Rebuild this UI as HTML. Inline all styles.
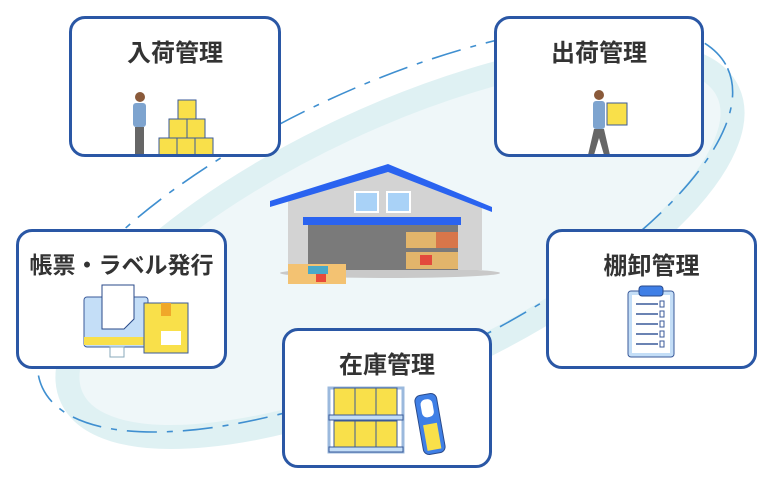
<!DOCTYPE html>
<html><head><meta charset="utf-8"><style>
body{margin:0;width:770px;height:485px;background:#fff;overflow:hidden;position:relative;font-family:"Liberation Sans","Noto Sans CJK JP",sans-serif}
.b{position:absolute;border:3px solid #2a57a5;border-radius:16px;background:#fff;box-sizing:border-box;overflow:hidden}
.t{position:absolute;left:0;right:0;text-align:center;font-weight:bold;font-size:24px;color:#333;top:14px}
svg{position:absolute;left:0;top:0}
</style></head><body>
<svg width="770" height="485">
<g transform="rotate(-25 400 245)">
<ellipse cx="400" cy="245" rx="362" ry="128" fill="#eff7f9" stroke="#dff1f3" stroke-width="24"/>
</g>
<g transform="rotate(-25 385 228)">
<ellipse cx="385" cy="228" rx="378" ry="140" fill="none" stroke="#3f8fd0" stroke-width="1.6" stroke-dasharray="30 10 6 10"/>
</g>
<!-- warehouse -->
<ellipse cx="390" cy="273" rx="110" ry="5" fill="#c9c9c9"/>
<polygon points="288,200 388,172 482,205 482,270 288,270" fill="#d3d3d3"/>
<polygon points="270,201 388,164 492,207 492,212 388,172 270,207" fill="#2a63f0"/>
<rect x="354" y="191" width="25" height="22" fill="#fff"/><rect x="356" y="193" width="21" height="18" fill="#a9d2f7"/>
<rect x="386" y="191" width="25" height="22" fill="#fff"/><rect x="388" y="193" width="21" height="18" fill="#a9d2f7"/>
<rect x="303" y="217" width="158" height="8" fill="#2a63f0"/>
<rect x="308" y="225" width="150" height="45" fill="#7a7a7a"/>
<rect x="406" y="232" width="52" height="16" fill="#e2b56b"/><rect x="436" y="232" width="22" height="16" fill="#d8764a"/>
<rect x="406" y="252" width="52" height="17" fill="#e2b56b"/><rect x="420" y="255" width="12" height="10" fill="#e34a3c"/>
<rect x="288" y="264" width="58" height="20" fill="#f3c272"/><rect x="308" y="266" width="20" height="8" fill="#4aa9c8"/><rect x="316" y="274" width="10" height="8" fill="#e84a3a"/>
</svg>

<div class="b" style="left:69px;top:16px;width:212px;height:141px"><div class="t">入荷管理</div>
<svg width="212" height="141" style="left:-3px;top:-3px">
<circle cx="71" cy="81" r="5" fill="#8a5a3a"/><rect x="64" y="87" width="13" height="24" rx="3" fill="#7ea4cf"/><rect x="66" y="111" width="9" height="27" fill="#666"/>
<rect x="64" y="138" width="13" height="3" fill="#333"/>
<g fill="#f9e04a" stroke="#3a5a9a" stroke-width="1"><rect x="109" y="84" width="18" height="19"/><rect x="100" y="103" width="18" height="19"/><rect x="118" y="103" width="18" height="19"/><rect x="90" y="122" width="18" height="19"/><rect x="108" y="122" width="18" height="19"/><rect x="126" y="122" width="18" height="19"/></g>
</svg></div>

<div class="b" style="left:494px;top:16px;width:210px;height:141px"><div class="t">出荷管理</div>
<svg width="210" height="141" style="left:-3px;top:-3px">
<circle cx="105" cy="79" r="5" fill="#8a5a3a"/><rect x="99" y="85" width="12" height="28" rx="3" fill="#7ea4cf"/><polygon points="100,113 110,113 116,139 110,139 105,122 100,139 94,139" fill="#666"/>
<rect x="113" y="87" width="20" height="22" fill="#f9e04a" stroke="#3a5a9a"/>
</svg></div>

<div class="b" style="left:16px;top:229px;width:211px;height:140px"><div class="t" style="font-size:23px">帳票・ラベル発行</div>
<svg width="211" height="140" style="left:-3px;top:-3px">
<rect x="68" y="68" width="64" height="50" rx="3" fill="#c4def7" stroke="#3a5a9a"/><rect x="68" y="108" width="64" height="8" fill="#f9e04a"/>
<rect x="94" y="118" width="14" height="10" fill="none" stroke="#8ab"/>
<polygon points="86,56 118,56 118,90 108,100 86,100" fill="#fff" stroke="#2a4a8a"/>
<rect x="128" y="74" width="44" height="50" fill="#f9e04a" stroke="#3a5a9a"/><rect x="145" y="74" width="10" height="13" fill="#f0a82a"/>
<rect x="145" y="102" width="20" height="14" fill="#fff"/>
</svg></div>

<div class="b" style="left:546px;top:229px;width:211px;height:140px"><div class="t">棚卸管理</div>
<svg width="211" height="140" style="left:-3px;top:-3px">
<rect x="82" y="62" width="46" height="66" rx="3" fill="#c4def7" stroke="#3a5a9a"/><rect x="86" y="66" width="38" height="58" fill="#fff"/>
<rect x="93" y="57" width="24" height="10" rx="3" fill="#3f7fe6" stroke="#2a4a8a"/>
<g stroke="#3a5a9a" stroke-width="1.5"><line x1="90" y1="75" x2="112" y2="75"/><line x1="90" y1="85" x2="112" y2="85"/><line x1="90" y1="95" x2="112" y2="95"/><line x1="90" y1="105" x2="112" y2="105"/><line x1="90" y1="115" x2="112" y2="115"/></g>
<g fill="none" stroke="#3a5a9a"><rect x="114" y="72" width="4" height="6"/><rect x="114" y="82" width="4" height="6"/><rect x="114" y="92" width="4" height="6"/><rect x="114" y="102" width="4" height="6"/><rect x="114" y="112" width="4" height="6"/></g>
</svg></div>

<div class="b" style="left:282px;top:328px;width:210px;height:140px"><div class="t">在庫管理</div>
<svg width="210" height="140" style="left:-3px;top:-3px">
<rect x="47" y="60" width="74" height="64" fill="none" stroke="#9bb9dd" stroke-width="3"/>
<g fill="#f9e04a" stroke="#3a5a9a"><rect x="52" y="60" width="21" height="27"/><rect x="73" y="60" width="21" height="27"/><rect x="94" y="60" width="21" height="27"/><rect x="52" y="93" width="21" height="26"/><rect x="73" y="93" width="21" height="26"/><rect x="94" y="93" width="21" height="26"/></g>
<rect x="47" y="87" width="74" height="5" fill="#c4def7" stroke="#3a5a9a"/><rect x="47" y="119" width="74" height="5" fill="#c4def7" stroke="#3a5a9a"/>
<g transform="rotate(-10 148 96)"><rect x="137" y="66" width="22" height="60" rx="6" fill="#3f7fe6" stroke="#2a4a8a"/>
<rect x="142" y="71" width="12" height="18" rx="5" fill="#fff"/><rect x="141" y="96" width="14" height="26" fill="#f9e04a"/></g>
</svg></div>
</body></html>
